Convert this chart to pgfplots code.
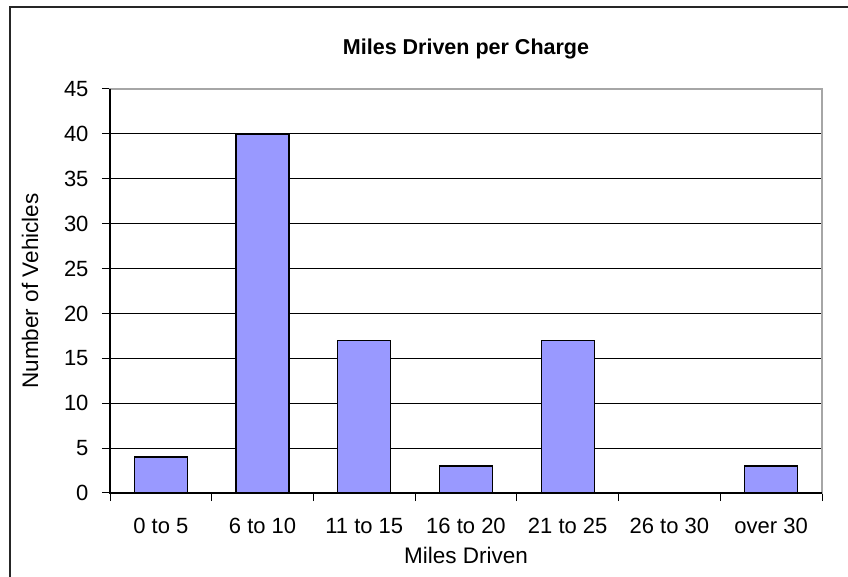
\documentclass[border=0pt]{standalone}
\usepackage{pgfplots}
\pgfplotsset{compat=1.18}
\usepackage{fontspec}
\setmainfont{Liberation Sans}
\definecolor{barfill}{HTML}{9999FF}
\begin{document}
\begin{tikzpicture}
\useasboundingbox (0,0) rectangle (848bp,577bp);
\fill[white] (0,0) rectangle (848bp,577bp);
\draw[line width=1.5bp, black!85] (10bp,-2bp) -- (10bp,570bp) -- (850bp,570bp);
\node[font=\fontsize{21.5bp}{25bp}\selectfont\bfseries] at (466bp,528bp) {Miles Driven per Charge};
\begin{axis}[
  at={(110bp,84bp)}, anchor=south west,
  scale only axis, width=712bp, height=404bp,
  xmin=-0.5, xmax=6.5, ymin=0, ymax=45,
  xtick={-0.5,0.5,...,6.5},
  x tick label as interval,
  xticklabels={0 to 5,6 to 10,11 to 15,16 to 20,21 to 25,26 to 30,over 30},
  ytick={0,5,...,45},
  xtick pos=bottom, ytick pos=left,
  tick align=outside, major tick length=8bp,
  tick style={black, line width=1bp},
  ymajorgrids, grid style={black, line width=0.9bp},
  axis line style={draw=gray!70, line width=1.5bp},
  /pgf/number format/assume math mode=true,
  tick label style={font=\fontsize{22bp}{26bp}\selectfont},
  label style={font=\fontsize{22.5bp}{26bp}\selectfont},
  xticklabel style={anchor=center, text height=16bp, text depth=0bp, yshift=-32bp+8bp},
  yticklabel style={xshift=-10bp},
  xlabel={Miles Driven},
  ylabel={Number of Vehicles},
  xlabel style={at={(axis description cs:0.5,-0.1535)}, anchor=center},
  ylabel style={at={(axis description cs:-0.1124,0.5)}, anchor=center},
  clip=false,
]
\addplot[ybar, bar width=0.52, fill=barfill, draw=black, line width=1.3bp]
  coordinates {(0,4) (1,40) (2,17) (3,3) (4,17) (5,0) (6,3)};
\draw[black, line width=1.2bp] (rel axis cs:0,1) -- (rel axis cs:0,0) -- (rel axis cs:1,0);
\end{axis}
\end{tikzpicture}
\end{document}
